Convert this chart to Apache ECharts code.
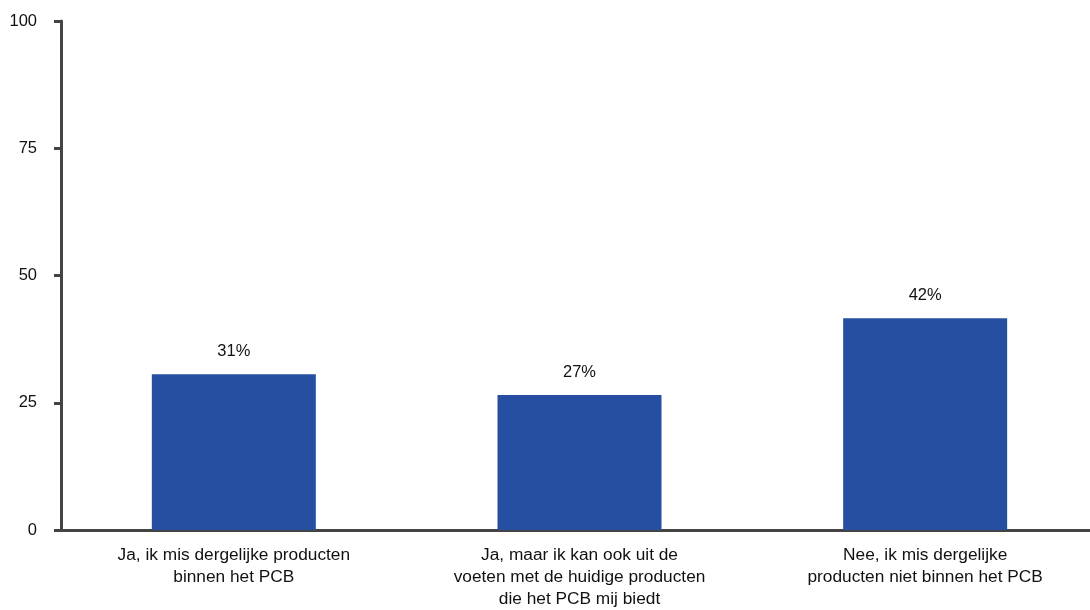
<!DOCTYPE html>
<html><head><meta charset="utf-8">
<script src="https://cdn.jsdelivr.net/npm/echarts@6/dist/echarts.min.js"></script>
<style>html,body{margin:0;padding:0;background:#fff;overflow:hidden}#c{width:1100px;height:610px}</style>
</head><body><div id="c"></div>
<script>
const categories = [
  "Ja, ik mis dergelijke producten\nbinnen het PCB",
  "Ja, maar ik kan ook uit de\nvoeten met de huidige producten\ndie het PCB mij biedt",
  "Nee, ik mis dergelijke\nproducten niet binnen het PCB"
];
const values = [30.6, 26.5, 41.6];
const yTicks = [0, 25, 50, 75, 100];

const chart = echarts.init(document.getElementById('c'));
chart.setOption({
  animation: false,
  grid: { left: 61, top: 21, width: 1037, height: 510, containLabel: false },
  xAxis: {
    type: 'category', data: categories,
    axisLine: { lineStyle: { color: '#444', width: 3 } },
    axisTick: { alignWithLabel: true, length: 7, lineStyle: { color: '#444', width: 3 } },
    axisLabel: { color: '#111', fontSize: 17.3, fontFamily: 'Liberation Sans, Arial', lineHeight: 22, margin: 14, interval: 0 }
  },
  yAxis: {
    type: 'value', min: yTicks[0], max: yTicks[yTicks.length - 1], interval: 25,
    splitLine: { show: false },
    axisLine: { show: true, lineStyle: { color: '#444', width: 3 } },
    axisTick: { show: true, length: 7, lineStyle: { color: '#444', width: 3 } },
    axisLabel: { color: '#111', fontSize: 16.5, fontFamily: 'Liberation Sans, Arial', margin: 24 }
  },
  series: [{
    type: 'bar', data: values, barWidth: 164,
    itemStyle: { color: '#264FA2' },
    label: { show: true, position: 'top', distance: 14, color: '#111', fontSize: 16.5, fontFamily: 'Liberation Sans, Arial',
      formatter: p => Math.round(p.value) + '%' }
  }]
});
</script></body></html>
